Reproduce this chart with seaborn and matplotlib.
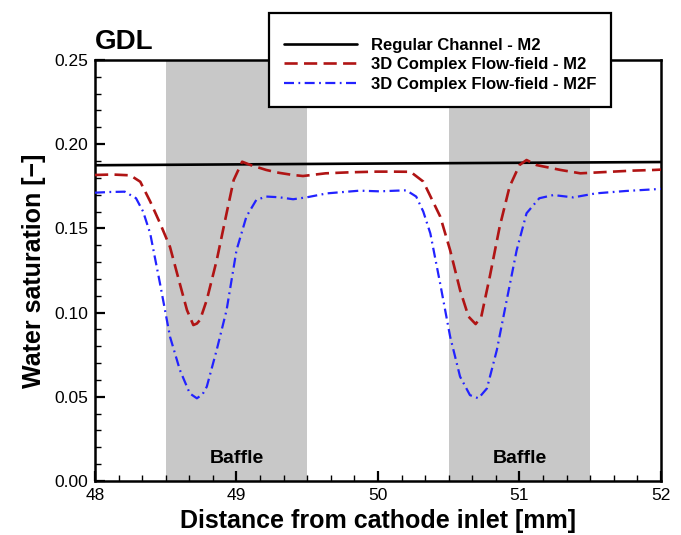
import matplotlib
matplotlib.use("Agg")
import matplotlib.pyplot as plt
import seaborn as sns
import pandas as pd
from matplotlib.ticker import MultipleLocator, FormatStrFormatter

# values
x_regular = [48.0, 50.0, 52.0]
s_regular = [0.1875, 0.1885, 0.1894]

x_m2 = [48.00, 48.12, 48.25, 48.32, 48.39, 48.46, 48.53, 48.60, 48.65, 48.695, 48.72, 48.742,
        48.79, 48.86, 48.93, 48.98, 49.04, 49.10, 49.21, 49.30, 49.40, 49.47, 49.63, 49.80,
        49.99, 50.10, 50.23, 50.32, 50.44, 50.51, 50.58, 50.64, 50.69, 50.73, 50.79, 50.86,
        50.93, 51.00, 51.05, 51.12, 51.29, 51.43, 51.66, 51.80, 51.95, 52.00]
s_m2 = [0.1817, 0.1820, 0.1815, 0.1777, 0.1660, 0.1530, 0.1390, 0.1170, 0.1015, 0.0926, 0.0935, 0.0956,
        0.1075, 0.1310, 0.1590, 0.1787, 0.1896, 0.1876, 0.1847, 0.1830, 0.1817, 0.1811, 0.1827, 0.1833,
        0.1837, 0.1837, 0.1836, 0.1778, 0.1570, 0.1370, 0.1134, 0.0976, 0.0932, 0.0976, 0.1213, 0.1510,
        0.1748, 0.1876, 0.1906, 0.1876, 0.1847, 0.1827, 0.1837, 0.1843, 0.1847, 0.1849]

x_m2f = [48.00, 48.10, 48.21, 48.29, 48.34, 48.39, 48.46, 48.53, 48.60, 48.67, 48.72, 48.76,
         48.79, 48.86, 48.93, 49.00, 49.07, 49.14, 49.21, 49.30, 49.40, 49.50, 49.64, 49.87,
         50.01, 50.13, 50.20, 50.27, 50.32, 50.37, 50.44, 50.51, 50.58, 50.65, 50.71, 50.77,
         50.84, 50.91, 50.98, 51.05, 51.14, 51.24, 51.38, 51.54, 51.75, 51.95, 52.00]
s_m2f = [0.1712, 0.1716, 0.1718, 0.1679, 0.1600, 0.1470, 0.1170, 0.0857, 0.0659, 0.0520, 0.0491, 0.0515,
         0.0560, 0.0778, 0.1015, 0.1370, 0.1570, 0.1669, 0.1689, 0.1685, 0.1673, 0.1685, 0.1708, 0.1724,
         0.1720, 0.1724, 0.1726, 0.1689, 0.1600, 0.1470, 0.1170, 0.0857, 0.0620, 0.0510, 0.0491, 0.0550,
         0.0778, 0.1075, 0.1370, 0.1590, 0.1679, 0.1698, 0.1684, 0.1708, 0.1722, 0.1732, 0.1735]

baffles = [(48.5, 49.5), (50.5, 51.5)]
labels = ['Regular Channel - M2', '3D Complex Flow-field - M2', '3D Complex Flow-field - M2F']

sns.set_style("ticks")
plt.rcParams['font.family'] = ['Liberation Sans', 'DejaVu Sans']
plt.rcParams['text.color'] = 'black'
plt.rcParams['axes.labelcolor'] = 'black'
plt.rcParams['xtick.color'] = 'black'
plt.rcParams['ytick.color'] = 'black'
plt.rcParams['axes.edgecolor'] = 'black'

fig = plt.figure(figsize=(6.81, 5.35), dpi=100)
ax = fig.add_axes([0.1395, 0.1009, 0.8311, 0.7870])

for lo, hi in baffles:
    ax.axvspan(lo, hi, color='#c8c8c8', lw=0, zorder=0)
    ax.text((lo + hi) / 2, 0.0135, 'Baffle', ha='center', va='center',
            fontsize=14, fontweight='bold', zorder=3)

sns.lineplot(x=x_regular, y=s_regular, ax=ax, color='black', lw=1.9, label=labels[0], zorder=4)
sns.lineplot(x=x_m2, y=s_m2, ax=ax, color='#b01414', lw=1.9, label=labels[1], zorder=4,
             linestyle=(0, (5, 2.4)))
sns.lineplot(x=x_m2f, y=s_m2f, ax=ax, color='#2222ff', lw=1.6, label=labels[2], zorder=4,
             linestyle=(0, (4.5, 2, 0.8, 2)))

ax.set_xlim(48, 52)
ax.set_ylim(0, 0.25)
ax.xaxis.set_major_locator(MultipleLocator(1))
ax.xaxis.set_minor_locator(MultipleLocator(1 / 6))
ax.yaxis.set_major_locator(MultipleLocator(0.05))
ax.yaxis.set_minor_locator(MultipleLocator(0.01))
ax.yaxis.set_major_formatter(FormatStrFormatter('%.2f'))
ax.tick_params(which='major', direction='in', length=7, width=1.6, labelsize=12.5, pad=5)
ax.tick_params(which='minor', direction='in', length=4, width=1.0)
for sp in ax.spines.values():
    sp.set_linewidth(1.8)

ax.set_xlabel('Distance from cathode inlet [mm]', fontsize=18, fontweight='bold', labelpad=4)
ax.set_ylabel('Water saturation [\u2212]', fontsize=18, fontweight='bold', labelpad=6)

ax.legend_.remove()
handles, _ = ax.get_legend_handles_labels()
leg = fig.legend(handles, labels, loc='upper left', bbox_to_anchor=(0.395, 0.976),
                 borderaxespad=0, frameon=True, fancybox=False, edgecolor='black', framealpha=1,
                 prop={'weight': 'bold', 'size': 12}, handlelength=4.4, handletextpad=0.8,
                 labelspacing=0.28, borderpad=0.9, title=' ', title_fontsize=4)
leg.get_frame().set_linewidth(1.6)

fig.text(0.139, 0.922, 'GDL', fontsize=20, fontweight='bold', va='center', ha='left')

plt.savefig('out.png', dpi=100)
plt.close()
